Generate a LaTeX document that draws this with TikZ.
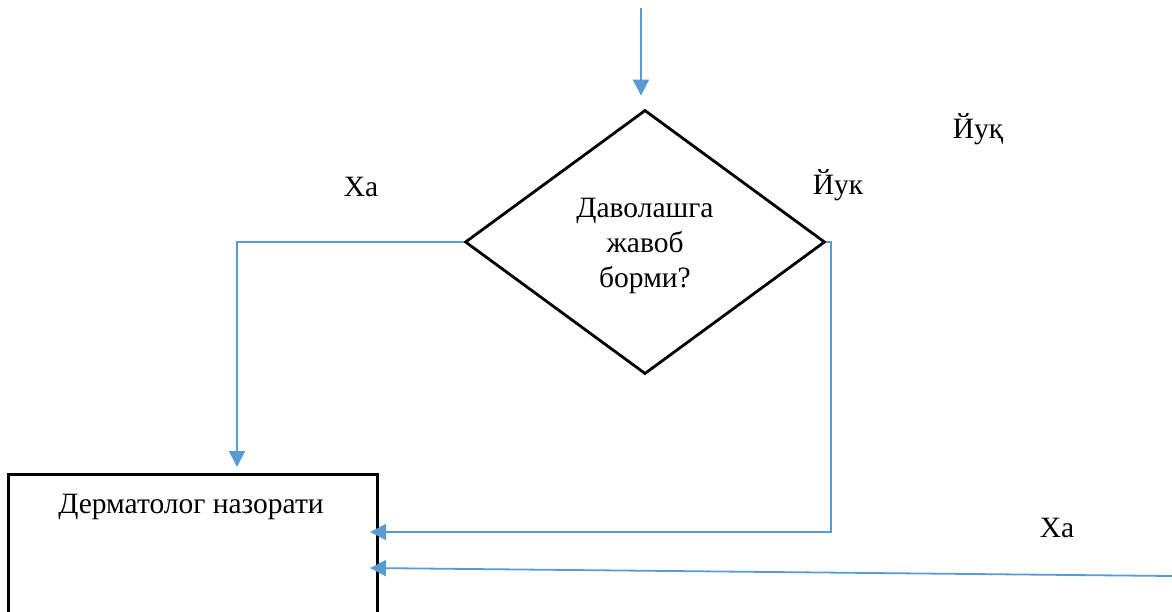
\documentclass[tikz,border=0pt]{standalone}
\usepackage{fontspec}
\setmainfont{Liberation Serif}
\usetikzlibrary{arrows.meta,shapes.geometric,calc}
\definecolor{conblue}{HTML}{5B9BD5}
\tikzset{
  conn/.style={draw=conblue, line width=1.8pt, -{Triangle[length=16pt,width=16pt]}},
  blk/.style={draw=black, line width=2.8pt},
  txt/.style={font=\fontsize{29.5}{35}\selectfont, inner sep=0pt, align=center}
}
\begin{document}
\begin{tikzpicture}[x=1pt,y=-1pt]
\useasboundingbox (0,0) rectangle (1172,611);
\clip (0,0) rectangle (1172,611);
% decision diamond
\node[blk, diamond, minimum width=360pt, minimum height=264pt, inner sep=0pt] (dia) at (645,242) {};
\node[txt] (diatext) at (645,246) {Даволашга\\жавоб\\борми?};
% box
\node[blk, rectangle, minimum width=369pt, minimum height=240pt, anchor=north west, inner sep=0pt] (box) at (7,473) {};
\node[txt, anchor=north] (boxtext) at (191,494) {Дерматолог назорати};
% coordinates
\coordinate (topstart) at (641,8);
\coordinate (leftcorner) at (237,242);
\coordinate (rightcorner) at (831,242);
\coordinate (yesend) at (370,532);
\coordinate (botstart) at (1172,576);
\coordinate (botend) at (370,568);
% connectors
\draw[conn, shorten >=13pt] (topstart) -- (topstart |- dia.north);
\draw[conn, shorten >=6pt] (dia.west) -- (leftcorner) -- (leftcorner |- box.north);
\draw[conn] (dia.east) -- (rightcorner) -- (rightcorner |- yesend) -- (yesend);
\draw[conn] (botstart) -- (botend);
% labels
\node[txt] (ha1) at (361,187) {Ха};
\node[txt] (yuk1) at (838,185) {Йук};
\node[txt] (yuk2) at (978,129) {Йуқ};
\node[txt] (ha2) at (1057,528) {Ха};
\end{tikzpicture}
\end{document}
